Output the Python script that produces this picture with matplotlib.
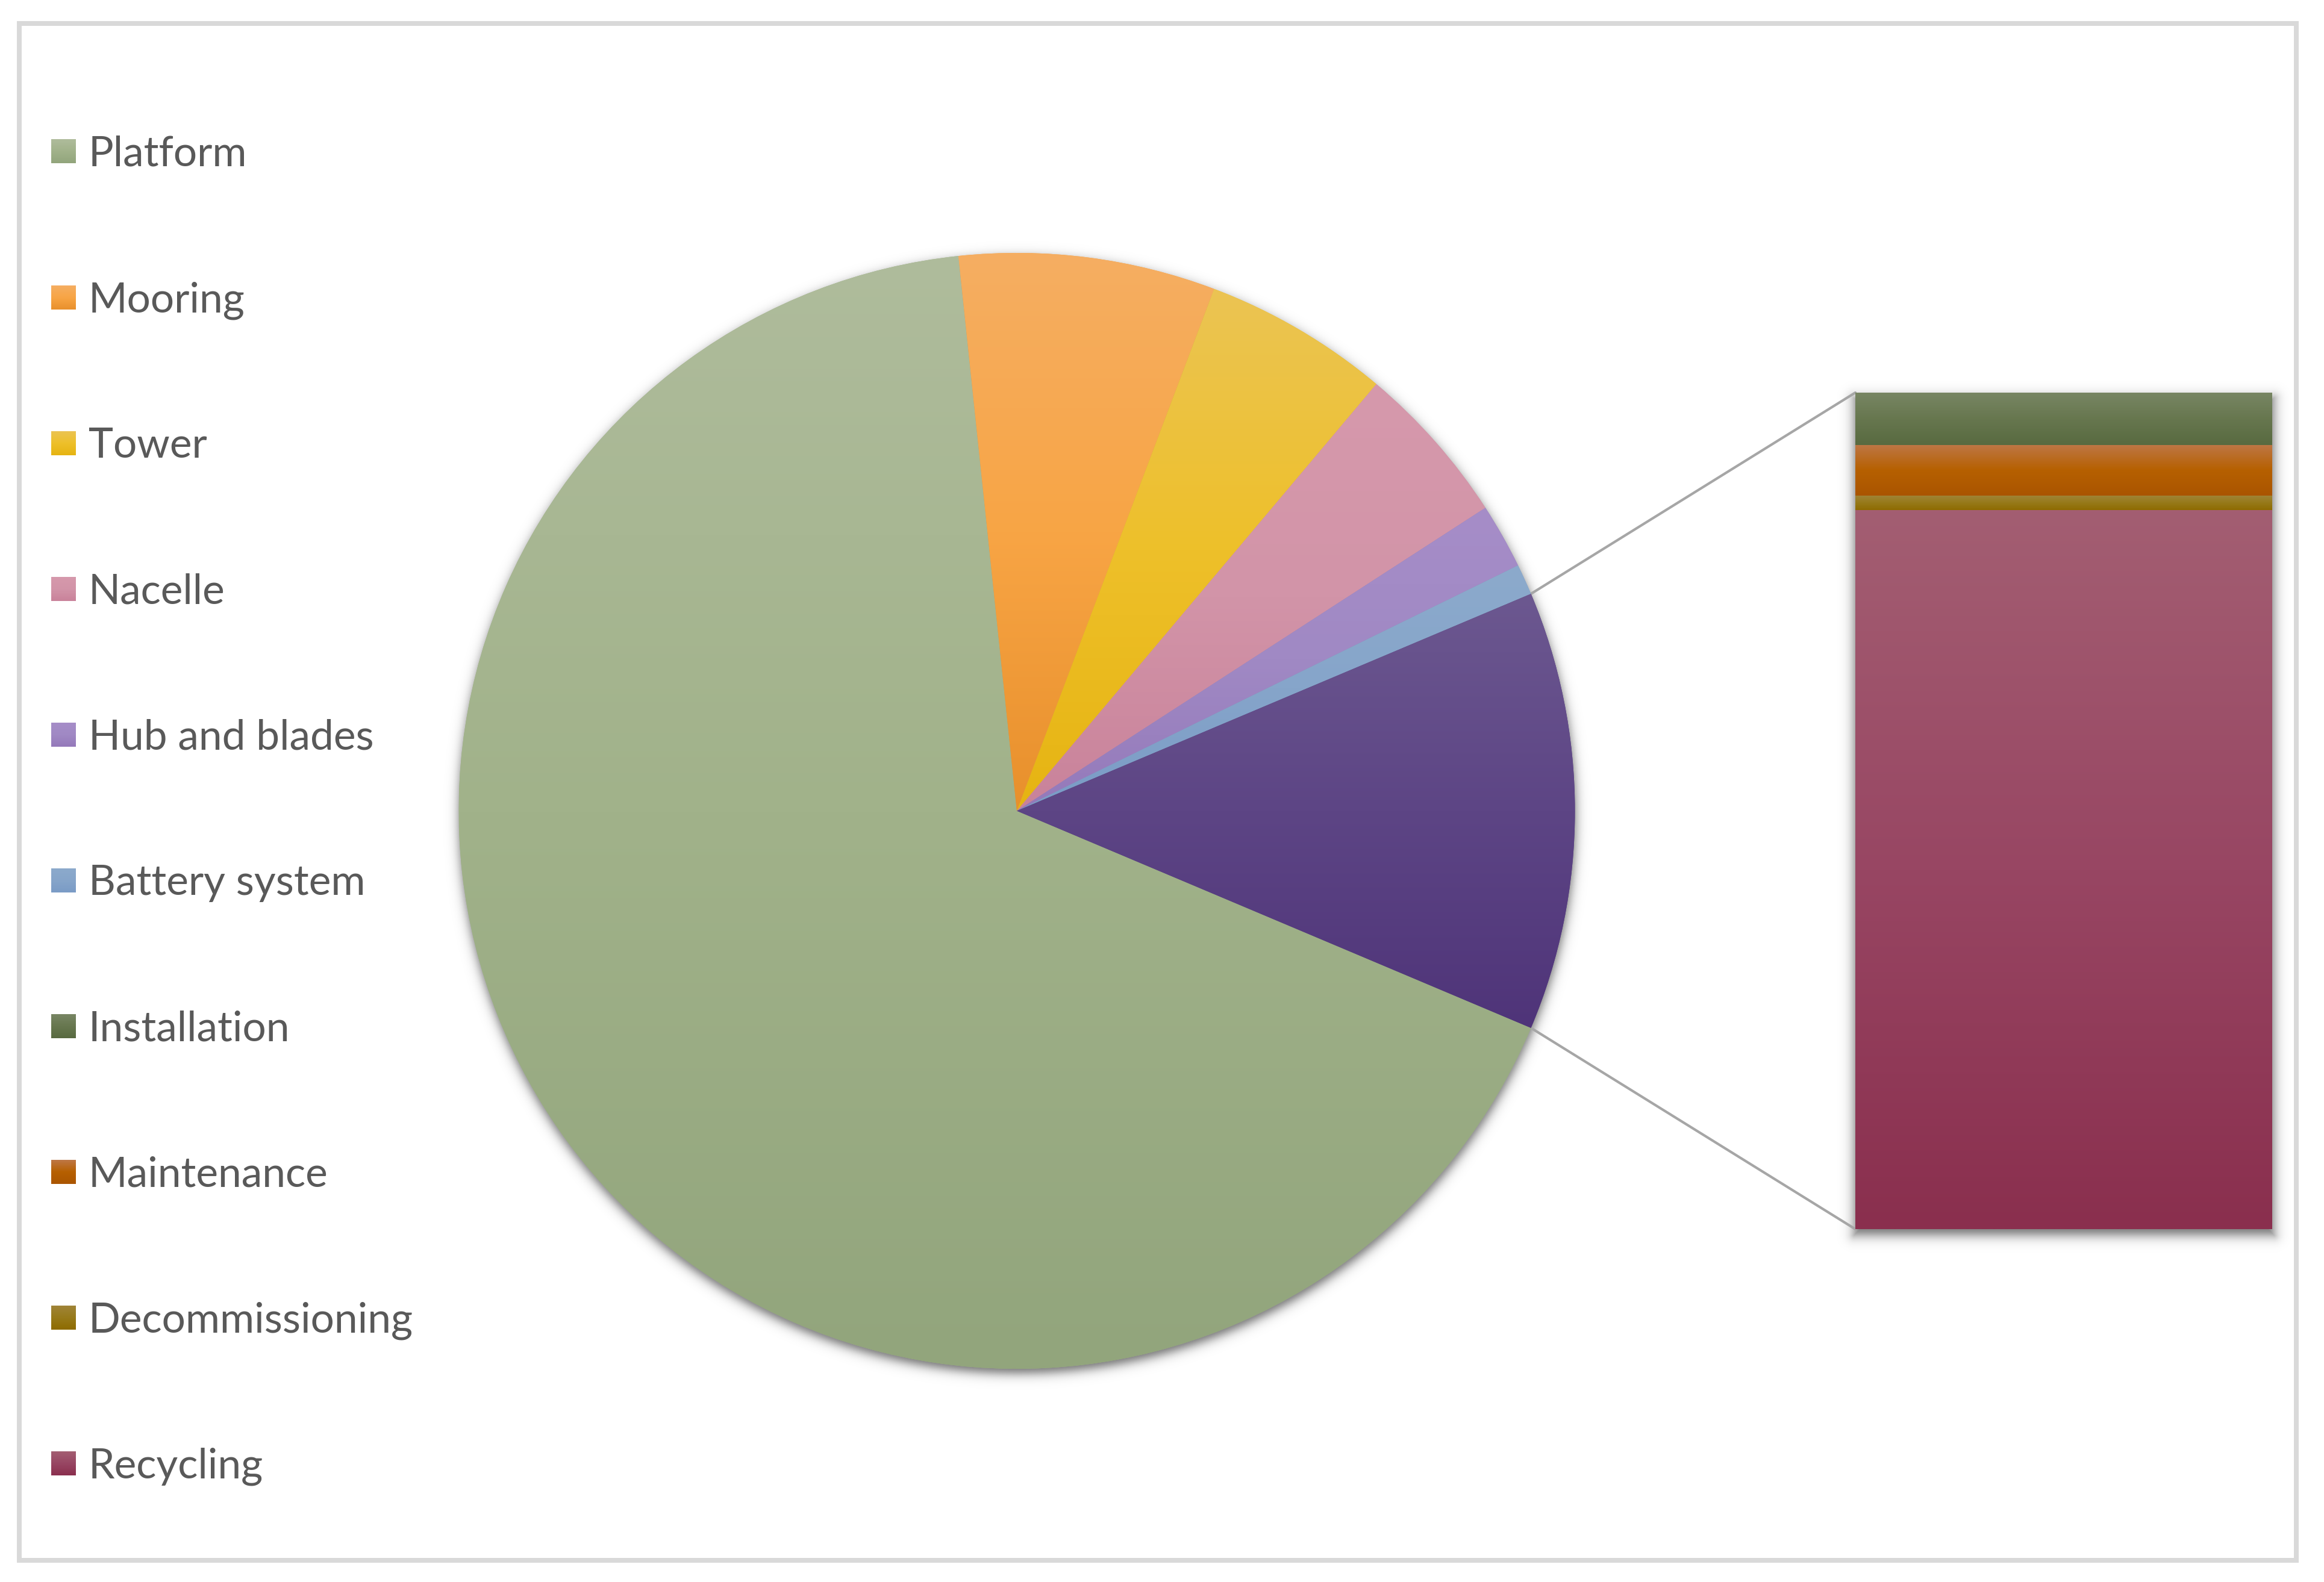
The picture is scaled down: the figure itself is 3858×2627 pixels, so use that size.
import numpy as np
import matplotlib
matplotlib.use("Agg")
import matplotlib.pyplot as plt
from matplotlib.patches import ConnectionPatch, Rectangle
from matplotlib.colors import to_rgb

# ---------------- data ----------------
pie_labels = ["Platform", "Mooring", "Tower", "Nacelle", "Hub and blades", "Battery system"]
pie_values = [66.97, 7.42, 5.39, 4.72, 1.89, 0.89]
bar_labels = ["Installation", "Maintenance", "Decommissioning", "Recycling"]
bar_values = [0.80, 0.77, 0.22, 10.93]

# gradient colours (top, middle, bottom)
pie_colors = [
    ("#AFBC9C", "#A1B28A", "#92A57C"),
    ("#F5AE62", "#F8A545", "#E8902C"),
    ("#EBC453", "#EEC02A", "#E6B412"),
    ("#D699AC", "#D294A8", "#C9829A"),
    ("#A68DC8", "#A089C4", "#9479BA"),
    ("#8CAACC", "#86A5CA", "#7A9BC6"),
]
other_colors = ("#6C5890", "#5D4585", "#4F3479")
bar_colors = [
    ("#788664", "#67774F", "#586A40"),
    ("#BE7746", "#B66000", "#AA5500"),
    ("#A08438", "#977A1A", "#8E6B00"),
    ("#A35E72", "#984663", "#8A2F4E"),
]

# ---------------- layout ----------------
W, H = 3858, 2627
fig = plt.figure(figsize=(W / 100, H / 100), dpi=100)
fig.patch.set_facecolor("white")

CX, CY, R = 1688.0, 1346.5, 926.5
BX0, BX1, BY0, BY1 = 3080.0, 3772.0, 652.0, 2041.0
TEXT_COLOR = "#595959"
FONT = ["Lato", "DejaVu Sans"]


def fig_rect(x0, y0, x1, y1):
    return [x0 / W, 1 - y1 / H, (x1 - x0) / W, (y1 - y0) / H]


def grad_img(stops, n=256):
    cols = np.array([to_rgb(c) for c in stops])
    pos = np.linspace(0, 1, len(stops))
    t = np.linspace(0, 1, n)
    img = np.stack([np.interp(t, pos, cols[:, k]) for k in range(3)], axis=-1)
    return img[:, None, :]


# background axes in pixel coordinates
ax_bg = fig.add_axes([0, 0, 1, 1], zorder=0)
ax_bg.set_xlim(0, W)
ax_bg.set_ylim(H, 0)
ax_bg.axis("off")

# chart border
ax_bg.add_patch(Rectangle((31.5, 39), 3812 - 31.5, 2590.5 - 39, fill=False,
                          ec="#D9D9D9", lw=8 * 0.72))


def shadow_image(sdf_func, x0, x1, y0, y1, amp=0.55, w=5.0):
    xs = np.arange(x0, x1, 1.0, dtype=np.float32)
    ys = np.arange(y0, y1, 1.0, dtype=np.float32)
    X, Y = np.meshgrid(xs, ys)
    s = sdf_func(X, Y)
    a = amp / (1 + np.exp(np.clip(s / w, -50, 50)))
    img = np.zeros((len(ys), len(xs), 4), dtype=np.float32)
    img[..., 3] = a
    ax_bg.imshow(img, extent=(x0, x1, y1, y0), origin="upper",
                 aspect="auto", interpolation="bilinear", zorder=1)


# pie shadow
off = 7.0
shadow_image(lambda X, Y: np.hypot(X - CX, Y - (CY + off)) - R,
             CX - R - 60, CX + R + 60, CY - R - 60, CY + R + 80, amp=0.58, w=5.5)


# bar shadow
def box_sdf(X, Y):
    cx, cy = (BX0 + BX1) / 2, (BY0 + BY1) / 2 + 9
    hx, hy = (BX1 - BX0) / 2 + 2, (BY1 - BY0) / 2
    qx = np.abs(X - cx) - hx
    qy = np.abs(Y - cy) - hy
    outside = np.hypot(np.maximum(qx, 0), np.maximum(qy, 0))
    inside = np.minimum(np.maximum(qx, qy), 0)
    return outside + inside


shadow_image(box_sdf, BX0 - 60, BX1 + 60, BY0 - 60, BY1 + 80, amp=0.58, w=6.0)
ax_bg.set_xlim(0, W)
ax_bg.set_ylim(H, 0)

# ---------------- pie ----------------
ax_pie = fig.add_axes(fig_rect(CX - R, CY - R, CX + R, CY + R), zorder=2)
ax_pie.patch.set_visible(False)
other_total = sum(bar_values)
values = pie_values + [other_total]
total = sum(values)
start = -other_total / total * 360 / 2
grads = pie_colors + [other_colors]
wedges, _ = ax_pie.pie(values, colors=[g[1] for g in grads], startangle=start,
                       counterclock=False, radius=1,
                       wedgeprops=dict(linewidth=0))
for wdg, g in zip(wedges, grads):
    ext = wdg.get_path().get_extents()
    im = ax_pie.imshow(grad_img(g), extent=(ext.x0, ext.x1, ext.y0, ext.y1),
                       origin="upper", aspect="auto", interpolation="bilinear",
                       zorder=3)
    im.set_clip_path(wdg)
ax_pie.set_xlim(-1, 1)
ax_pie.set_ylim(-1, 1)
ax_pie.set_aspect("equal")
ax_pie.axis("off")

# ---------------- bar ----------------
ax_bar = fig.add_axes(fig_rect(BX0, BY0, BX1, BY1), zorder=2)
ax_bar.patch.set_visible(False)
bottom = 0.0
for lab, val, g in reversed(list(zip(bar_labels, bar_values, bar_colors))):
    rect = ax_bar.bar(0, val, bottom=bottom, width=1.0, color=g[1], linewidth=0)[0]
    bb = rect.get_bbox()
    im = ax_bar.imshow(grad_img(g), extent=(bb.x0, bb.x1, bb.y0, bb.y1),
                       origin="upper", aspect="auto", interpolation="bilinear",
                       zorder=3)
    im.set_clip_path(rect)
    bottom += val
ax_bar.set_xlim(-0.5, 0.5)
ax_bar.set_ylim(0, other_total)
ax_bar.axis("off")

# ---------------- connector lines ----------------
a_top = np.deg2rad(start + other_total / total * 360)
a_bot = np.deg2rad(start)
for ang, yb in [(a_top, other_total), (a_bot, 0.0)]:
    con = ConnectionPatch(xyA=(np.cos(ang), np.sin(ang)), coordsA=ax_pie.transData,
                          xyB=(-0.5, yb), coordsB=ax_bar.transData,
                          color="#A6A6A6", lw=3.0, zorder=1.5)
    fig.add_artist(con)

# ---------------- legend ----------------
leg_labels = pie_labels + bar_labels
leg_colors = pie_colors + bar_colors
for i, (lab, g) in enumerate(zip(leg_labels, leg_colors)):
    base = 276 + 242.1 * i
    ax_bg.imshow(grad_img(g), extent=(84.5, 125, base - 4.5, base - 44),
                 origin="upper", aspect="auto", interpolation="bilinear", zorder=2)
    ax_bg.text(147, base, lab, ha="left", va="baseline", fontsize=50,
               family=FONT, color=TEXT_COLOR, zorder=3)
ax_bg.set_xlim(0, W)
ax_bg.set_ylim(H, 0)

fig.savefig("out.png", dpi=100, facecolor="white")
